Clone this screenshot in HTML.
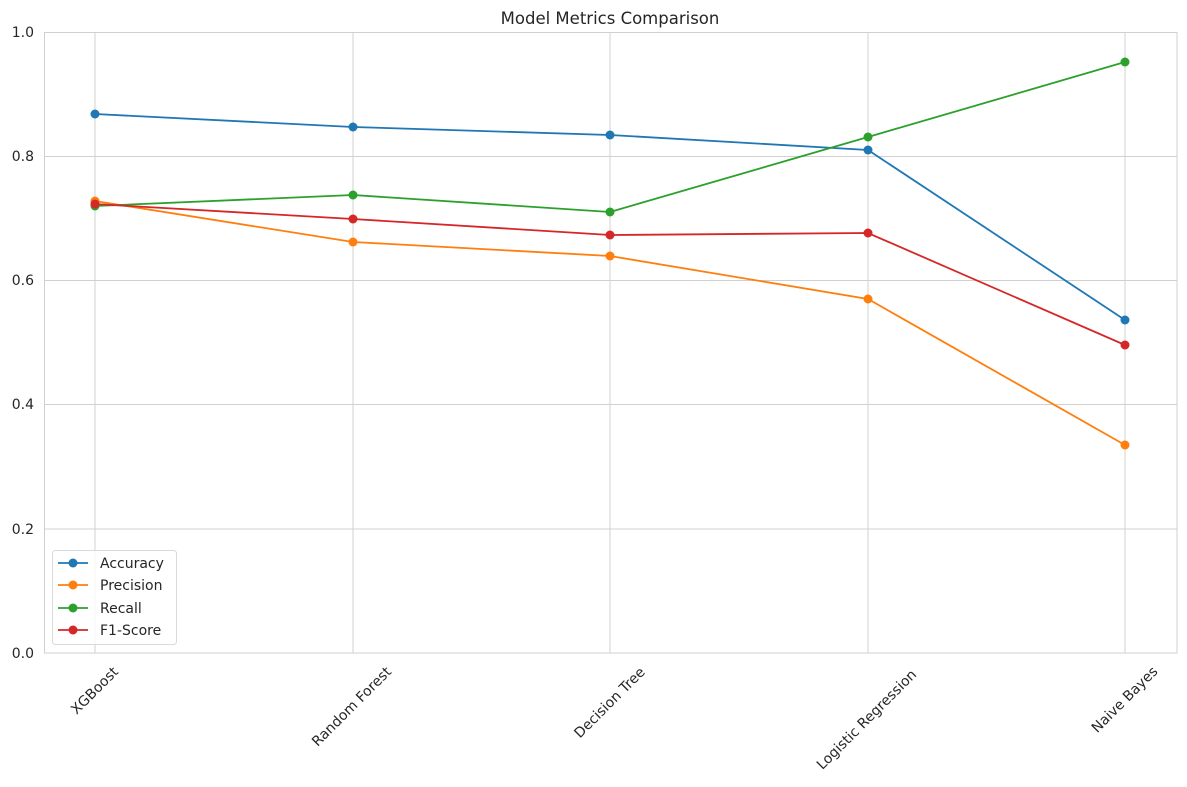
<!DOCTYPE html>
<html><head><meta charset="utf-8"><style>body{margin:0;background:#fff}svg{display:block}text{font-family:"DejaVu Sans","Liberation Sans",sans-serif;fill:#262626}</style></head><body>
<svg width="1187" height="787" xmlns="http://www.w3.org/2000/svg">
<rect width="1187" height="787" fill="#fff"/>
<g stroke="#d0d0d0" stroke-width="1">
<line x1="44" x2="1177" y1="529" y2="529"/><line x1="44" x2="1177" y1="404.5" y2="404.5"/><line x1="44" x2="1177" y1="280.5" y2="280.5"/><line x1="44" x2="1177" y1="156.5" y2="156.5"/>
<line x1="95" x2="95" y1="32" y2="653"/><line x1="353" x2="353" y1="32" y2="653"/><line x1="610" x2="610" y1="32" y2="653"/><line x1="868" x2="868" y1="32" y2="653"/><line x1="1125" x2="1125" y1="32" y2="653"/>
<rect x="44.5" y="32.5" width="1132.5" height="620.5" fill="none"/>
</g>
<g font-size="14" text-anchor="end">
<text x="34" y="658">0.0</text><text x="34" y="534">0.2</text><text x="34" y="409">0.4</text><text x="34" y="285">0.6</text><text x="34" y="161">0.8</text><text x="34" y="37">1.0</text>
</g>
<g font-size="14" text-anchor="middle" dominant-baseline="central">
<text transform="translate(95,691) rotate(-45)">XGBoost</text>
<text transform="translate(352,707) rotate(-45)">Random Forest</text>
<text transform="translate(610,703) rotate(-45)">Decision Tree</text>
<text transform="translate(867,720) rotate(-45)">Logistic Regression</text>
<text transform="translate(1125,700) rotate(-45)">Naive Bayes</text>
</g>
<text x="610" y="24" font-size="16.5" text-anchor="middle">Model Metrics Comparison</text>
<g fill="none" stroke-width="1.8">
<polyline stroke="#1f77b4" points="95,114 353,127 610,135 868,150 1125,320"/>
<polyline stroke="#ff7f0e" points="95,201 353,242 610,256 868,299 1125,445"/>
<polyline stroke="#2ca02c" points="95,206 353,195 610,212 868,137 1125,62"/>
<polyline stroke="#d62728" points="95,204 353,219 610,235 868,233 1125,345"/>
</g>
<g fill="#1f77b4"><circle cx="95" cy="114" r="4.5"/><circle cx="353" cy="127" r="4.5"/><circle cx="610" cy="135" r="4.5"/><circle cx="868" cy="150" r="4.5"/><circle cx="1125" cy="320" r="4.5"/></g>
<g fill="#ff7f0e"><circle cx="95" cy="201" r="4.5"/><circle cx="353" cy="242" r="4.5"/><circle cx="610" cy="256" r="4.5"/><circle cx="868" cy="299" r="4.5"/><circle cx="1125" cy="445" r="4.5"/></g>
<g fill="#2ca02c"><circle cx="95" cy="206" r="4.5"/><circle cx="353" cy="195" r="4.5"/><circle cx="610" cy="212" r="4.5"/><circle cx="868" cy="137" r="4.5"/><circle cx="1125" cy="62" r="4.5"/></g>
<g fill="#d62728"><circle cx="95" cy="204" r="4.5"/><circle cx="353" cy="219" r="4.5"/><circle cx="610" cy="235" r="4.5"/><circle cx="868" cy="233" r="4.5"/><circle cx="1125" cy="345" r="4.5"/></g>
<rect x="52.5" y="550.5" width="124" height="94" rx="3" fill="#fff" fill-opacity="0.8" stroke="#d9d9d9"/>
<g stroke-width="1.8">
<line x1="58" x2="88" y1="563" y2="563" stroke="#1f77b4"/><circle cx="73" cy="563" r="4.5" fill="#1f77b4"/>
<line x1="58" x2="88" y1="585" y2="585" stroke="#ff7f0e"/><circle cx="73" cy="585" r="4.5" fill="#ff7f0e"/>
<line x1="58" x2="88" y1="608" y2="608" stroke="#2ca02c"/><circle cx="73" cy="608" r="4.5" fill="#2ca02c"/>
<line x1="58" x2="88" y1="630" y2="630" stroke="#d62728"/><circle cx="73" cy="630" r="4.5" fill="#d62728"/>
</g>
<g font-size="14"><text x="100" y="568">Accuracy</text><text x="100" y="590">Precision</text><text x="100" y="613">Recall</text><text x="100" y="635">F1-Score</text></g>
</svg>
</body></html>
